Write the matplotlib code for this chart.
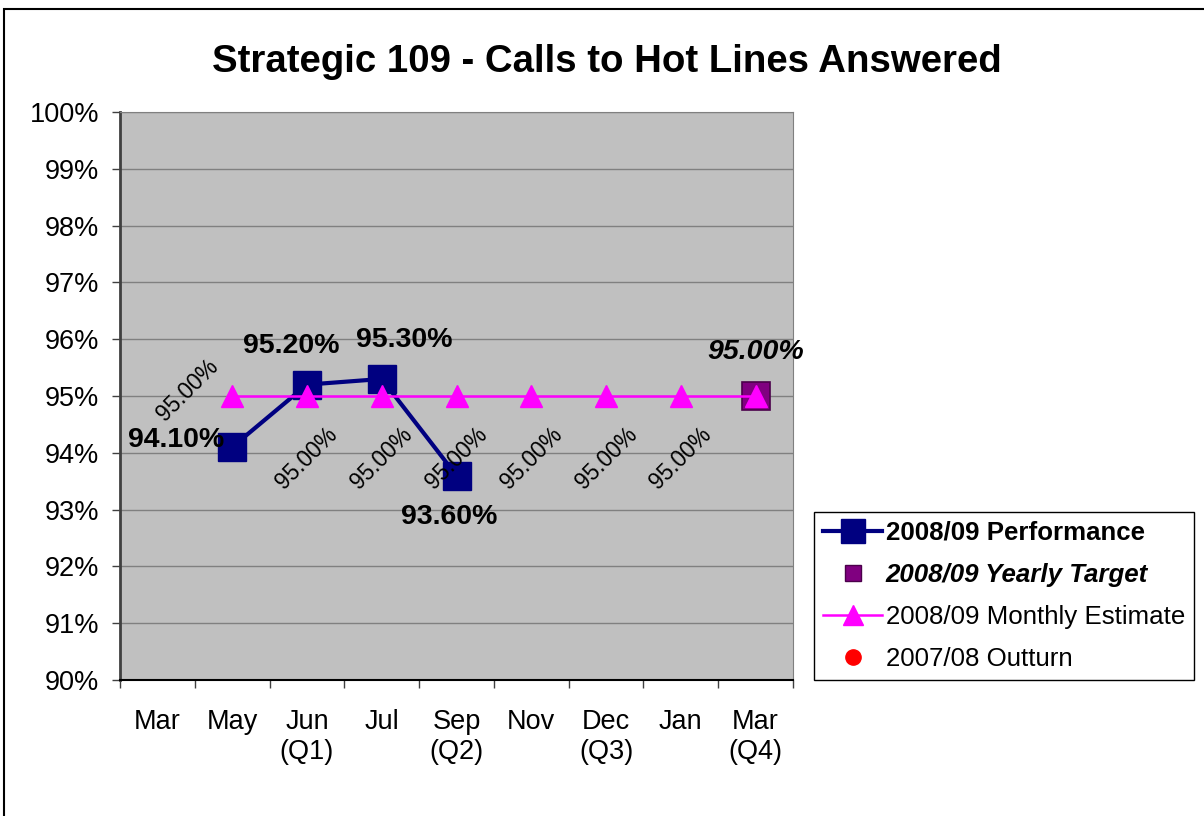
import matplotlib.pyplot as plt
from matplotlib.lines import Line2D
from matplotlib.patches import Rectangle
import numpy as np

plt.rcParams['font.family'] = ['Liberation Sans', 'DejaVu Sans']

# data
months = ["Mar", "May", "Jun\n(Q1)", "Jul", "Sep\n(Q2)", "Nov", "Dec\n(Q3)", "Jan", "Mar\n(Q4)"]
performance = [np.nan, 94.10, 95.20, 95.30, 93.60, np.nan, np.nan, np.nan, np.nan]
monthly_estimate = [np.nan, 95.0, 95.0, 95.0, 95.0, 95.0, 95.0, 95.0, 95.0]
yearly_target = [np.nan] * 8 + [95.0]
outturn_0708 = [np.nan] * 9

# label offsets in points (x, y)
perf_offsets = [None, (-40, 5), (-11, 28), (16, 28), (-5, -30), None, None, None, None]
est_offsets = [None, (-32, 4), (0, -45), (0, -45), (0, -45), (0, -45), (0, -45), (0, -45), None]

NAVY = "#000080"
MAGENTA = "#FF00FF"
PURPLE = "#800080"

fig = plt.figure(figsize=(12.04, 8.16), dpi=100)
ax = fig.add_axes([120 / 1204, 1 - 680 / 816, 673 / 1204, 568 / 816])
ax.set_facecolor("#C0C0C0")

x = np.arange(len(months))

ax.plot(x, performance, color=NAVY, lw=3, marker="s", ms=19.5,
        mfc=NAVY, mec=NAVY, zorder=3)
ax.plot(x, yearly_target, ls="none", marker="s", ms=20, mfc=PURPLE,
        mec="#4B004B", mew=1.2, zorder=4)
ax.plot(x, monthly_estimate, color=MAGENTA, lw=1.8, marker="^", ms=16,
        mfc=MAGENTA, mec=MAGENTA, zorder=5)
ax.plot(x, outturn_0708, ls="none", marker="o", ms=12, color="red")

# data labels
for i, v in enumerate(performance):
    if perf_offsets[i] is not None and not np.isnan(v):
        ax.annotate(f"{v:.2f}%", (x[i], v), xytext=perf_offsets[i],
                    textcoords="offset points", ha="center", va="center",
                    fontsize=20.5, fontweight="bold", zorder=6)
for i, v in enumerate(monthly_estimate):
    if est_offsets[i] is not None and not np.isnan(v):
        ax.annotate(f"{v:.2f}%", (x[i], v), xytext=est_offsets[i],
                    textcoords="offset points", ha="center", va="center",
                    fontsize=16.3, rotation=45, rotation_mode="anchor", zorder=6)
for i, v in enumerate(yearly_target):
    if not np.isnan(v):
        ax.annotate(f"{v:.2f}%", (x[i], v), xytext=(0, 32),
                    textcoords="offset points", ha="center", va="center",
                    fontsize=20.5, fontweight="bold", fontstyle="italic", zorder=6)

# axes
ax.set_ylim(90, 100)
ax.set_yticks(np.arange(90, 101, 1))
ax.set_yticklabels([f"{t}%" for t in range(90, 101)])
ax.yaxis.grid(True, color="#808080", lw=1)
ax.set_axisbelow(True)
ax.tick_params(axis="y", labelsize=19.5, length=6, width=1, pad=9, color="#404040")

ax.set_xlim(-0.5, len(months) - 0.5)
ax.set_xticks(np.arange(-0.5, len(months), 1))
ax.set_xticklabels([])
ax.set_xticks(x, minor=True)
ax.set_xticklabels(months, minor=True)
ax.tick_params(axis="x", which="major", length=6, width=1, color="#404040")
ax.tick_params(axis="x", which="minor", length=0, labelsize=19.5, pad=21)

ax.spines["left"].set_color("#404040")
ax.spines["left"].set_linewidth(2)
ax.spines["bottom"].set_color("black")
ax.spines["bottom"].set_linewidth(1.5)
ax.spines["top"].set_color("#808080")
ax.spines["right"].set_color("#808080")

fig.text(607 / 1204, 1 - 62 / 816, "Strategic 109 - Calls to Hot Lines Answered",
         ha="center", va="center", fontsize=27.6, fontweight="bold")

# legend
handles = [
    Line2D([], [], color=NAVY, lw=3, marker="s", ms=17, mfc=NAVY, mec=NAVY),
    Line2D([], [], ls="none", marker="s", ms=11, mfc=PURPLE, mec="#4B004B"),
    Line2D([], [], color=MAGENTA, lw=1.8, marker="^", ms=15, mfc=MAGENTA, mec=MAGENTA),
    Line2D([], [], ls="none", marker="o", ms=11, color="red"),
]
labels = ["2008/09 Performance", "2008/09 Yearly Target",
          "2008/09 Monthly Estimate", "2007/08 Outturn"]
leg = fig.legend(handles, labels, loc="lower left",
                 bbox_to_anchor=(814 / 1204, 1 - 680 / 816), borderaxespad=0,
                 fontsize=18.6, frameon=True, fancybox=False, framealpha=1,
                 edgecolor="black", handlelength=2.3, handletextpad=0.12,
                 labelspacing=0.7, borderpad=0.35)
leg.get_frame().set_linewidth(1)
texts = leg.get_texts()
texts[0].set_fontweight("bold")
texts[1].set_fontweight("bold")
texts[1].set_fontstyle("italic")

# outer chart border
fig.patches.append(Rectangle((4 / 1204, -0.1), 1.2, 1.1 - 9 / 816, fill=False,
                             edgecolor="black", lw=1.5, transform=fig.transFigure))

fig.savefig("out.png", dpi=100)
